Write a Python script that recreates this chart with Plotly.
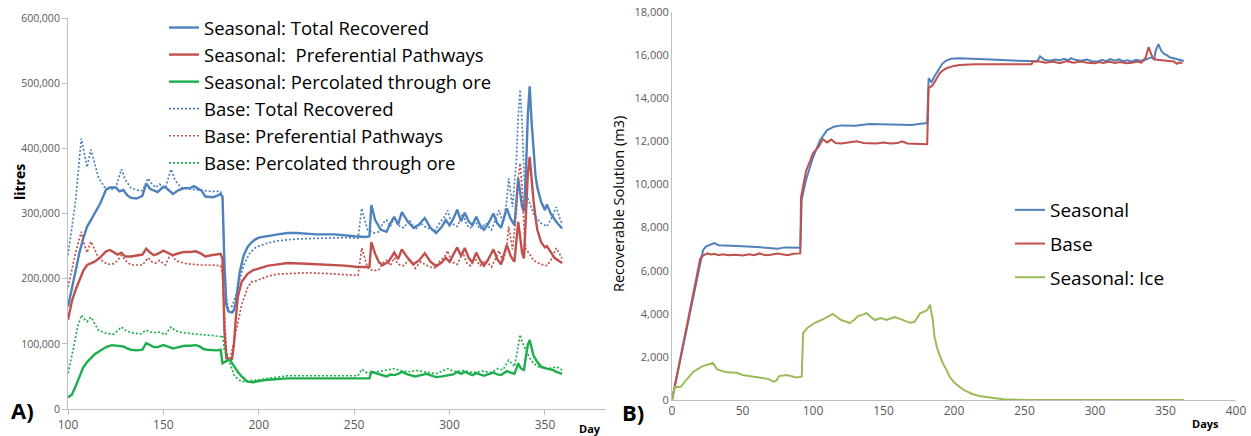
import plotly.graph_objects as go

# ---------------- Panel A (litres, thousands) ----------------
st_day = [100,102,104,106,108,110,112,114,117,120,122,125,127,129,131,133,136,139,141,143,145,147,150,152,155,158,161,164,166,168,170,172,174,176,178,180,181,182,183,184,186,187,188,189,190,192,194,196,198,200,205,210,215,220,230,240,250,256,258,259,261,264,267,269,271,273,275,278,281,284,287,290,293,296,298,300,302,304,306,308,310,312,314,316,318,320,323,325,327,330,332,334,336,337,338,339,340,341,342,343,344,345,346,348,350,351,353,356,359]
st_val = [157,185,215,240,262,280,290,300,316,337,340,340,334,336,328,324,323,327,346,338,335,333,341,338,330,336,339,339,342,338,335,326,326,325,327,330,326,220,160,150,148,152,165,190,210,235,248,255,260,263,266,268,270,270,268,268,265,264,265,313,290,275,272,285,295,283,302,288,278,283,293,278,270,280,290,282,292,306,288,301,288,282,295,282,275,283,300,285,278,308,292,282,354,330,310,303,360,450,495,440,395,360,340,318,305,314,300,287,277]

sp_day = [100,102,104,106,108,110,112,114,117,120,122,124,126,128,130,133,136,139,141,143,145,147,150,152,155,158,161,164,167,170,172,175,178,180,181,182,183,185,186,187,188,189,191,194,197,200,205,210,215,225,235,245,252,258,259,261,263,265,268,271,273,275,278,281,284,287,290,293,296,298,300,302,304,306,308,310,312,314,316,318,320,323,325,327,330,332,334,336,337,338,339,340,341,342,343,344,345,346,348,350,351,353,355,357,359]
sp_val = [137,165,183,198,212,221,223,226,233,242,244,241,237,240,234,234,235,237,246,240,236,238,243,240,236,239,241,241,242,238,234,236,237,238,230,120,78,75,77,100,140,172,195,207,213,216,220,222,224,223,222,220,218,218,256,238,225,221,226,240,230,245,232,222,228,239,226,219,225,232,226,236,248,235,247,232,225,240,228,220,228,245,230,222,252,235,226,287,260,240,231,290,360,387,350,320,295,275,256,248,250,240,232,228,224]

sg_day = [100,102,104,106,108,110,112,114,116,118,120,123,125,127,129,131,133,136,139,141,143,145,147,150,152,155,158,161,164,167,169,171,173,176,178,180,181,182,184,185,187,189,191,194,197,200,205,215,235,256,258,259,262,264,267,269,271,273,275,278,282,285,288,291,293,296,299,302,304,306,308,310,312,314,316,318,320,323,325,327,330,332,334,336,337,338,339,340,341,342,343,344,346,348,351,354,356,359]
sg_val = [18,22,35,50,64,72,78,84,88,92,95,98,97,96,96,93,91,90,91,101,98,95,95,98,96,93,95,97,97,98,96,92,91,90,90,91,70,72,75,75,65,57,50,42,41,43,45,47,47,46,47,57,54,52,50,53,52,54,57,53,50,52,54,51,49,50,51,53,57,54,57,54,52,55,53,51,53,56,53,52,58,56,54,70,64,61,60,80,98,106,92,82,72,65,62,60,57,54]

bt_day = [100,102,104,106,107,108,110,112,114,116,119,122,125,128,130,133,136,139,142,144,146,148,151,154,156,159,162,165,170,175,180,181,182,183,184,186,188,190,192,195,198,200,205,210,220,233,245,252,254,256,257,260,263,265,267,269,271,273,276,279,282,285,287,290,292,294,296,298,299,301,304,307,309,311,313,316,319,322,324,326,328,330,331,333,335,336,337,338,339,340,342,344,346,348,351,353,356,358,359]
bt_val = [236,280,320,385,415,400,371,398,375,355,341,337,339,368,352,339,336,335,354,345,340,345,339,368,352,340,338,337,336,334,334,320,230,170,155,158,175,200,220,238,247,250,255,258,261,262,263,262,308,285,275,270,272,285,290,280,295,282,278,290,275,285,280,276,272,282,290,298,305,285,280,300,282,278,290,276,285,275,290,305,285,320,354,310,380,450,490,440,360,330,316,300,292,285,280,290,310,290,285]

bp_day = [100,102,104,106,107,108,110,112,114,116,119,121,124,126,128,130,133,136,139,142,144,146,148,151,154,156,158,162,166,170,175,180,181,182,183,184,185,186,188,189,191,194,196,198,200,205,210,215,225,235,245,252,254,256,257,260,263,265,267,269,271,273,276,279,282,285,287,290,292,294,296,298,299,301,304,307,309,311,313,316,319,322,324,326,328,330,331,333,335,336,337,338,339,340,342,344,346,348,351,353,356,358,359]
bp_val = [187,215,240,262,272,258,240,257,245,232,225,222,223,228,236,228,221,221,221,232,226,224,228,221,239,230,226,223,222,221,221,220,205,140,90,76,78,90,120,136,160,185,195,196,198,204,207,208,209,208,206,205,247,225,217,212,214,224,228,220,232,222,220,230,216,226,222,218,216,224,230,236,243,226,222,240,224,220,232,220,228,218,230,243,226,250,280,245,300,355,377,340,280,245,238,228,225,222,220,228,247,235,231]

bg_day = [100,102,103,105,107,108,110,112,114,116,120,124,126,128,130,133,138,141,143,145,148,151,154,156,158,165,170,175,180,181,182,184,185,187,189,191,194,196,198,205,215,235,252,254,257,260,262,266,271,274,278,283,287,290,293,296,299,302,304,307,310,312,315,318,321,323,325,328,331,333,334,335,336,337,338,340,342,344,347,351,354,356,358,359]
bg_val = [55,80,95,126,144,140,134,141,130,121,116,115,120,126,121,117,115,121,118,117,118,114,126,121,118,115,114,113,111,113,90,78,70,52,46,42,43,44,44,47,51,51,51,61,55,56,57,60,62,59,57,59,57,56,54,58,62,58,57,59,57,56,57,58,56,58,62,60,75,68,65,80,100,114,103,90,78,70,64,62,63,65,62,60]

# ---------------- Panel B (m3) ----------------
rs_day = [0,5,10,15,20,22,24,27,30,33,40,50,60,70,75,80,90,91,92,95,100,105,110,115,120,130,140,150,160,170,175,181,182,184,186,188,190,192,195,198,204,215,230,245,254,259,261,264,268,272,275,278,281,283,286,290,294,298,302,305,308,311,314,317,320,323,326,329,332,335,338,340,342,343,345,347,349,351,353,356,359,363]
rs_val = [0,1600,3200,4800,6400,6950,7120,7200,7280,7180,7150,7130,7100,7030,7020,7080,7070,7060,9300,10200,11250,12050,12520,12680,12740,12720,12800,12780,12790,12760,12800,12850,14930,14750,15000,15210,15450,15630,15760,15830,15860,15840,15780,15740,15720,15720,15950,15780,15740,15800,15750,15830,15760,15860,15780,15740,15800,15720,15700,15780,15720,15820,15740,15800,15720,15760,15700,15780,15740,15760,15850,15900,15800,16200,16510,16200,16050,16000,15900,15850,15780,15730]

rb_day = [0,5,10,15,19,20,22,25,28,30,33,36,40,45,50,55,58,62,66,70,75,78,82,86,90,91,91.5,95,100,104,107,110,113,116,120,128,131,136,145,150,155,160,163,167,175,181,182,185,188,190,193,195,200,204,215,235,255,256,260,265,270,275,280,285,290,295,300,303,306,310,314,318,322,326,330,333,336,338,340,341,344,348,352,356,358,360,362]
rb_val = [0,1650,3300,4950,6300,6550,6700,6800,6750,6780,6720,6760,6720,6740,6700,6760,6720,6800,6720,6740,6800,6760,6720,6780,6800,6800,9400,10600,11450,11750,12100,11950,12080,11920,11900,11950,12000,11920,11900,11950,11900,11920,12000,11900,11870,11870,14470,14610,14950,15170,15330,15400,15500,15540,15580,15580,15580,15700,15720,15650,15700,15620,15720,15650,15700,15640,15620,15680,15640,15700,15630,15680,15620,15650,15700,15650,15900,16370,16000,15860,15780,15750,15720,15700,15600,15660,15630]

ri_day = [0,2,6,10,15,21,25,29,32,38,42,46,50,54,58,62,65,68,72,74,76,81,85,88,92,93,96,101,106,110,112,114,117,120,123,126,129,132,135,138,141,144,148,152,155,158,162,166,169,172,176,179,181,183,185,186,188,190,192,195,197,200,204,208,213,218,223,230,235,245,255,300,363]
ri_val = [0,600,600,930,1300,1550,1620,1720,1420,1300,1280,1260,1160,1120,1080,1050,1000,980,850,900,1110,1160,1100,1050,1080,3110,3340,3570,3710,3850,3900,3990,3850,3710,3650,3570,3700,3900,3950,4030,3850,3710,3800,3710,3780,3850,3750,3650,3580,3620,4030,4100,4170,4420,3710,3000,2410,2050,1720,1350,1070,820,600,430,280,190,140,60,30,10,0,0,0]

left_yticks = [0, 100000, 200000, 300000, 400000, 500000, 600000]
left_xticks = [100, 150, 200, 250, 300, 350]
right_yticks = [0, 2000, 4000, 6000, 8000, 10000, 12000, 14000, 16000, 18000]
right_xticks = [0, 50, 100, 150, 200, 250, 300, 350, 400]

BLUE = "#4F81BD"
RED = "#C0504D"
GREEN = "#1EAE4E"
LGREEN = "#9BBB59"
W = 1251
H = 436

def k(vals):
    return [v * 1000 for v in vals]

fig = go.Figure()
solid_w = 2.4
dot_w = 1.7
DOT = "2px,2px"

left_traces = [
    ("Seasonal: Total Recovered", st_day, k(st_val), BLUE, "solid", solid_w),
    ("Seasonal:  Preferential Pathways", sp_day, k(sp_val), RED, "solid", solid_w),
    ("Seasonal: Percolated through ore", sg_day, k(sg_val), GREEN, "solid", solid_w),
    ("Base: Total Recovered", bt_day, k(bt_val), BLUE, DOT, dot_w),
    ("Base: Preferential Pathways", bp_day, k(bp_val), RED, DOT, dot_w),
    ("Base: Percolated through ore", bg_day, k(bg_val), GREEN, DOT, dot_w),
]
for i, (name, x, y, c, dash, w) in enumerate(left_traces):
    fig.add_trace(go.Scatter(
        x=x, y=y, name=name, mode="lines",
        line=dict(color=c, width=w, dash=dash),
        xaxis="x", yaxis="y", legend="legend", legendgroup="g%d" % i,
        legendrank=i + 1, hoverinfo="skip"))

right_traces = [
    ("Seasonal", rs_day, rs_val, BLUE),
    ("Base", rb_day, rb_val, RED),
    ("Seasonal: Ice", ri_day, ri_val, LGREEN),
]
for i, (name, x, y, c) in enumerate(right_traces):
    fig.add_trace(go.Scatter(
        x=x, y=y, name=name, mode="lines",
        line=dict(color=c, width=2),
        xaxis="x2", yaxis="y2", legend="legend2", legendgroup="r%d" % i,
        legendrank=i + 1, hoverinfo="skip"))

AX = "#BFBFBF"
TICKC = "#595959"
FONT = "Open Sans"

def px_x(p):
    return p / W

def px_y(p):
    return 1 - p / H

common = dict(showgrid=False, zeroline=False, showline=True, linecolor=AX,
              linewidth=1, automargin=False)

fig.update_layout(
    template="none",
    width=W, height=H,
    margin=dict(l=0, r=0, t=0, b=0, pad=0, autoexpand=False),
    paper_bgcolor="white", plot_bgcolor="white",
    font=dict(family=FONT, color="#000000"),
    xaxis=dict(domain=[px_x(68), px_x(606)], range=[100, 382],
               tickvals=left_xticks, ticks="outside", ticklen=5, tickcolor=AX,
               tickfont=dict(size=12, color=TICKC), anchor="y", **common),
    yaxis=dict(domain=[px_y(409), px_y(18)], range=[0, 600000],
               tickvals=left_yticks, tickformat=",", ticks="outside",
               ticklen=5, tickcolor=AX,
               tickfont=dict(size=10.5, color=TICKC), anchor="x", **common),
    xaxis2=dict(domain=[px_x(672), px_x(1236)], range=[0, 400],
                tickvals=right_xticks, ticks="",
                tickfont=dict(size=12, color=TICKC), anchor="y2", **common),
    yaxis2=dict(domain=[px_y(400), px_y(12)], range=[0, 18000],
                tickvals=right_yticks, tickformat=",", ticks="",
                tickfont=dict(size=11, color=TICKC), anchor="x2", **common),
    legend=dict(x=px_x(164), y=px_y(9), xanchor="left", yanchor="top",
                font=dict(size=18.5, family=FONT, color="#000000"),
                bgcolor="rgba(0,0,0,0)", tracegroupgap=0, itemwidth=30,
                traceorder="grouped", borderwidth=0),
    legend2=dict(x=px_x(1010), y=px_y(191), xanchor="left", yanchor="top",
                 font=dict(size=19, family=FONT, color="#000000"),
                 bgcolor="rgba(0,0,0,0)", tracegroupgap=6, itemwidth=30,
                 traceorder="grouped", borderwidth=0),
    showlegend=True,
)

ann = [
    dict(text="<b>litres</b>", x=px_x(19), y=px_y(182), textangle=-90, size=14),
    dict(text="<b>Day</b>", x=px_x(590), y=px_y(428), textangle=0, size=11),
    dict(text="<b>A)</b>", x=px_x(22), y=px_y(410), textangle=0, size=22),
    dict(text="<b>B)</b>", x=px_x(633), y=px_y(412), textangle=0, size=22),
    dict(text="Recoverable Solution (m3)", x=px_x(618), y=px_y(204), textangle=-90, size=14.5),
    dict(text="<b>Days</b>", x=px_x(1205), y=px_y(423), textangle=0, size=11),
]
for a in ann:
    fig.add_annotation(text=a["text"], x=a["x"], y=a["y"], xref="paper", yref="paper",
                       showarrow=False, textangle=a["textangle"],
                       xanchor="center", yanchor="middle",
                       font=dict(size=a["size"], family=FONT, color="#000000"))

fig.write_html("out.html", config={"displayModeBar": False},
               post_script="document.body.style.margin='0';document.body.style.overflow='hidden';")
